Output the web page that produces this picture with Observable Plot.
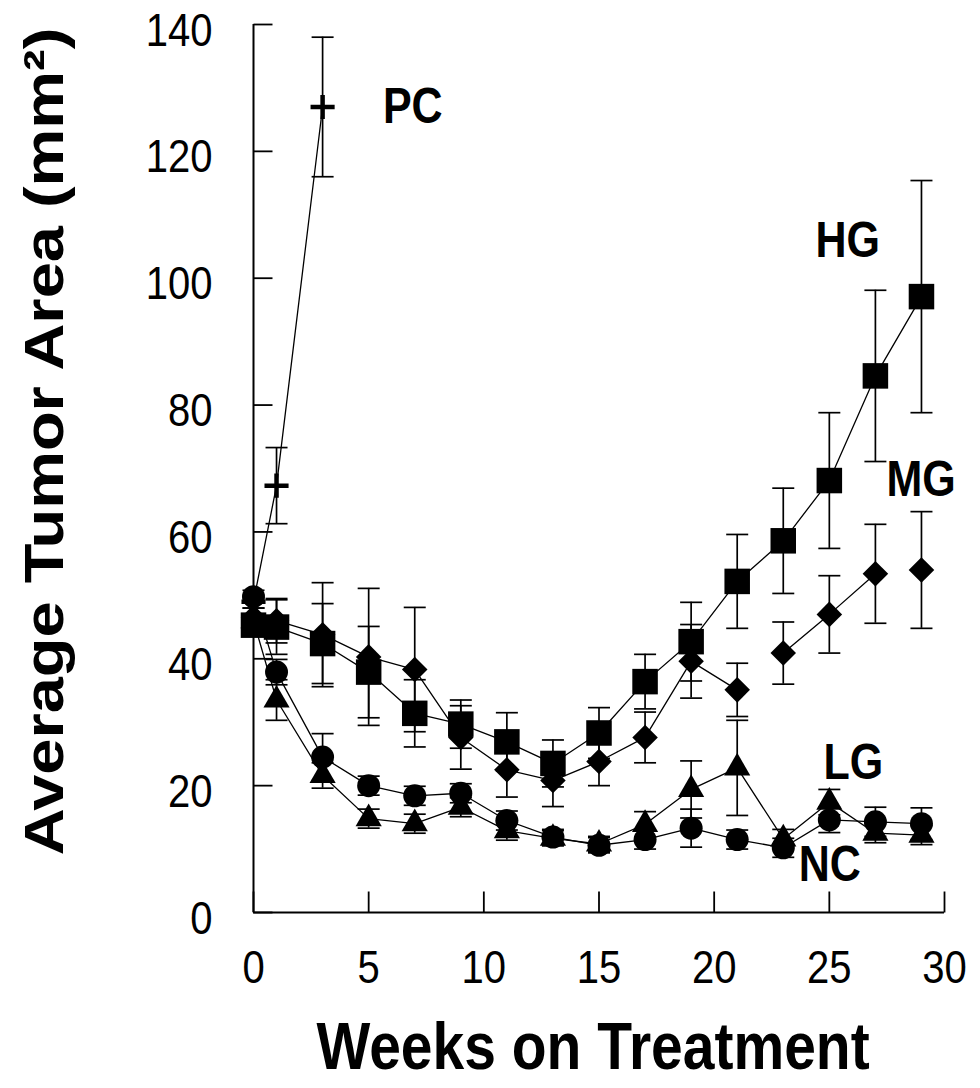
<!DOCTYPE html>
<html><head><meta charset="utf-8">
<script src="https://cdn.jsdelivr.net/npm/d3@7"></script>
<script src="https://cdn.jsdelivr.net/npm/@observablehq/plot@0.6"></script>
<style>body{margin:0;background:#fff}#chart{width:980px;height:1088px}</style>
</head><body><div id="chart"></div>
<script>
// ---- data ----
const weeks = [0, 1, 3, 5, 7, 9, 11, 13, 15, 17, 19, 21, 23, 25, 27, 29];
const ncValues = [49.8, 37.9, 24.5, 20.0, 18.4, 18.8, 14.5, 11.9, 10.6, 11.5, 13.3, 11.5, 10.2, 14.6, 14.3, 14.0];
const ncErr    = [1.0, 2.0, 3.7, 1.5, 1.5, 1.5, 1.5, 1.2, 1.2, 1.5, 3.0, 1.5, 1.5, 2.0, 2.3, 2.5];
const lgValues = [46.0, 33.5, 21.6, 14.8, 14.0, 16.6, 12.9, 11.7, 10.8, 13.9, 19.4, 22.8, 11.6, 17.4, 12.5, 12.2];
const lgErr    = [1.0, 3.2, 2.0, 1.5, 1.5, 1.5, 1.5, 1.2, 1.2, 2.0, 4.5, 7.5, 1.5, 2.0, 1.5, 1.5];
const mgValues = [46.5, 46.0, 43.8, 40.3, 38.3, 27.6, 22.5, 20.8, 23.8, 27.6, 39.6, 35.1, 40.9, 47.0, 53.4, 54.0];
const mgErr    = [1.5, 3.5, 8.2, 10.8, 9.8, 5.0, 4.3, 4.1, 3.8, 4.0, 5.8, 4.2, 4.9, 6.1, 7.8, 9.2];
const mgSegment = [0, 0, 0, 0, 0, 0, 0, 0, 0, 0, 0, 0, 1, 1, 1, 2]; // MG line is broken after weeks 21 and 27
const hgValues = [45.3, 45.0, 42.4, 37.9, 31.4, 29.7, 26.9, 23.5, 28.3, 36.4, 42.7, 52.2, 58.6, 68.1, 84.6, 97.1];
const hgErr    = [1.5, 4.3, 6.3, 7.2, 5.3, 3.8, 4.6, 3.7, 4.0, 4.3, 6.2, 7.4, 8.3, 10.7, 13.5, 18.3];
const pcWeeks  = [0, 1, 3];
const pcValues = [49.0, 67.3, 127.0];
const pcErr    = [1.0, 6.0, 11.0];

const xTicks = [0, 5, 10, 15, 20, 25, 30];
const yTicks = [0, 20, 40, 60, 80, 100, 120, 140];
const xTitle = "Weeks on Treatment";
const yTitle = "Average Tumor Area (mm²)";

const labelNames = ["PC", "HG", "MG", "LG", "NC"];
const labelWeek  = [5.62, 24.4, 27.48, 24.75, 23.67];
const labelValue = [124.5, 103.4, 65.7, 21.0, 4.9];

// ---- tidy rows ----
function rows(group, xs, vs, es, segs) {
  return xs.map((w, i) => ({group, week: w, value: vs[i], err: es[i], seg: group + (segs ? segs[i] : 0)}));
}
const NC = rows("NC", weeks, ncValues, ncErr);
const LG = rows("LG", weeks, lgValues, lgErr);
const MG = rows("MG", weeks, mgValues, mgErr, mgSegment);
const HG = rows("HG", weeks, hgValues, hgErr);
const PC = rows("PC", pcWeeks, pcValues, pcErr);
const all = [...NC, ...LG, ...MG, ...HG, ...PC];
const labels = labelNames.map((t, i) => ({t, week: labelWeek[i], value: labelValue[i]}));

// custom stroke symbols (size -> half length r)
const hline = {draw(ctx, size) { const r = Math.sqrt(size / Math.PI); ctx.moveTo(-r, 0); ctx.lineTo(r, 0); }};
const tickRight = {draw(ctx, size) { const r = Math.sqrt(size / Math.PI); ctx.moveTo(0, 0); ctx.lineTo(r, 0); }};
const tickUp = {draw(ctx, size) { const r = Math.sqrt(size / Math.PI); ctx.moveTo(0, 0); ctx.lineTo(0, -r); }};

const font = "'Liberation Sans', Arial, Helvetica, sans-serif";

const plot = Plot.plot({
  width: 980,
  height: 1088,
  marginLeft: 253,
  marginRight: 36,
  marginTop: 24,
  marginBottom: 176,
  x: {domain: [0, 30], axis: null},
  y: {domain: [0, 140], axis: null},
  style: {fontFamily: font, background: "white", color: "black", overflow: "visible"},
  marks: [
    // axes
    Plot.ruleX([0], {stroke: "black", strokeWidth: 2}),
    Plot.ruleY([0], {stroke: "black", strokeWidth: 2}),
    Plot.dot(yTicks, {y: d => d, frameAnchor: "left", symbol: tickRight, r: 19, fill: "none", stroke: "black", strokeWidth: 1.8}),
    Plot.dot(xTicks, {x: d => d, frameAnchor: "bottom", symbol: tickUp, r: 21, fill: "none", stroke: "black", strokeWidth: 1.8}),
    Plot.text(yTicks, {y: d => d, text: d => String(d), frameAnchor: "left", textAnchor: "end", lineAnchor: "bottom", dx: -41, dy: 21, fontSize: 40, fill: "black"}),
    Plot.text(xTicks, {x: d => d, text: d => String(d), frameAnchor: "bottom", textAnchor: "middle", lineAnchor: "bottom", dy: 70, fontSize: 40, fill: "black"}),
    Plot.text([xTitle], {frameAnchor: "bottom", textAnchor: "middle", lineAnchor: "bottom", dx: -6, dy: 156, fontSize: 57, fontWeight: "bold", fill: "black"}),
    Plot.text([yTitle], {frameAnchor: "left", rotate: -90, textAnchor: "middle", lineAnchor: "bottom", dx: -191, dy: -27, fontSize: 56, fontWeight: "bold", fill: "black"}),
    // error bars
    Plot.ruleX(all, {x: "week", y1: d => d.value - d.err, y2: d => d.value + d.err, stroke: "black", strokeWidth: 1.7}),
    Plot.dot(all, {x: "week", y: d => d.value + d.err, symbol: hline, r: 11, fill: "none", stroke: "black", strokeWidth: 1.7}),
    Plot.dot(all, {x: "week", y: d => d.value - d.err, symbol: hline, r: 11, fill: "none", stroke: "black", strokeWidth: 1.7}),
    // connecting lines
    Plot.line(all, {x: "week", y: "value", z: "seg", stroke: "black", strokeWidth: 1.3}),
    // markers
    Plot.dot(LG, {x: "week", y: "value", symbol: "triangle2", r: 12.5, fill: "black", stroke: "none"}),
    Plot.dot(MG, {x: "week", y: "value", symbol: "diamond2", r: 11.5, fill: "black", stroke: "none"}),
    Plot.dot(HG, {x: "week", y: "value", symbol: "square", r: 14.4, fill: "black", stroke: "none"}),
    Plot.dot(NC, {x: "week", y: "value", symbol: "circle", r: 11.5, fill: "black", stroke: "none"}),
    Plot.dot(PC, {x: "week", y: "value", symbol: "plus", r: 7.8, fill: "none", stroke: "black", strokeWidth: 4.5}),
    // series labels
    Plot.text(labels, {x: "week", y: "value", text: "t", textAnchor: "start", lineAnchor: "bottom", fontSize: 43, fontWeight: "bold", fill: "black"})
  ]
});

// the original figure is stretched vertically (~1.16) – stretch the glyphs accordingly
const k = 1.16;
d3.select(plot).selectAll("text").each(function () {
  const t = this.getAttribute("transform");
  if (t) {
    const rotated = /rotate\(\s*-?90/.test(t);
    this.setAttribute("transform", t + (rotated ? ` scale(${k},1)` : ` scale(1,${k})`));
  } else {
    const x = +this.getAttribute("x") || 0, y = +this.getAttribute("y") || 0;
    this.setAttribute("transform", `translate(${x},${y}) scale(1,${k}) translate(${-x},${-y})`);
  }
});

document.getElementById("chart").appendChild(plot);
</script></body></html>
